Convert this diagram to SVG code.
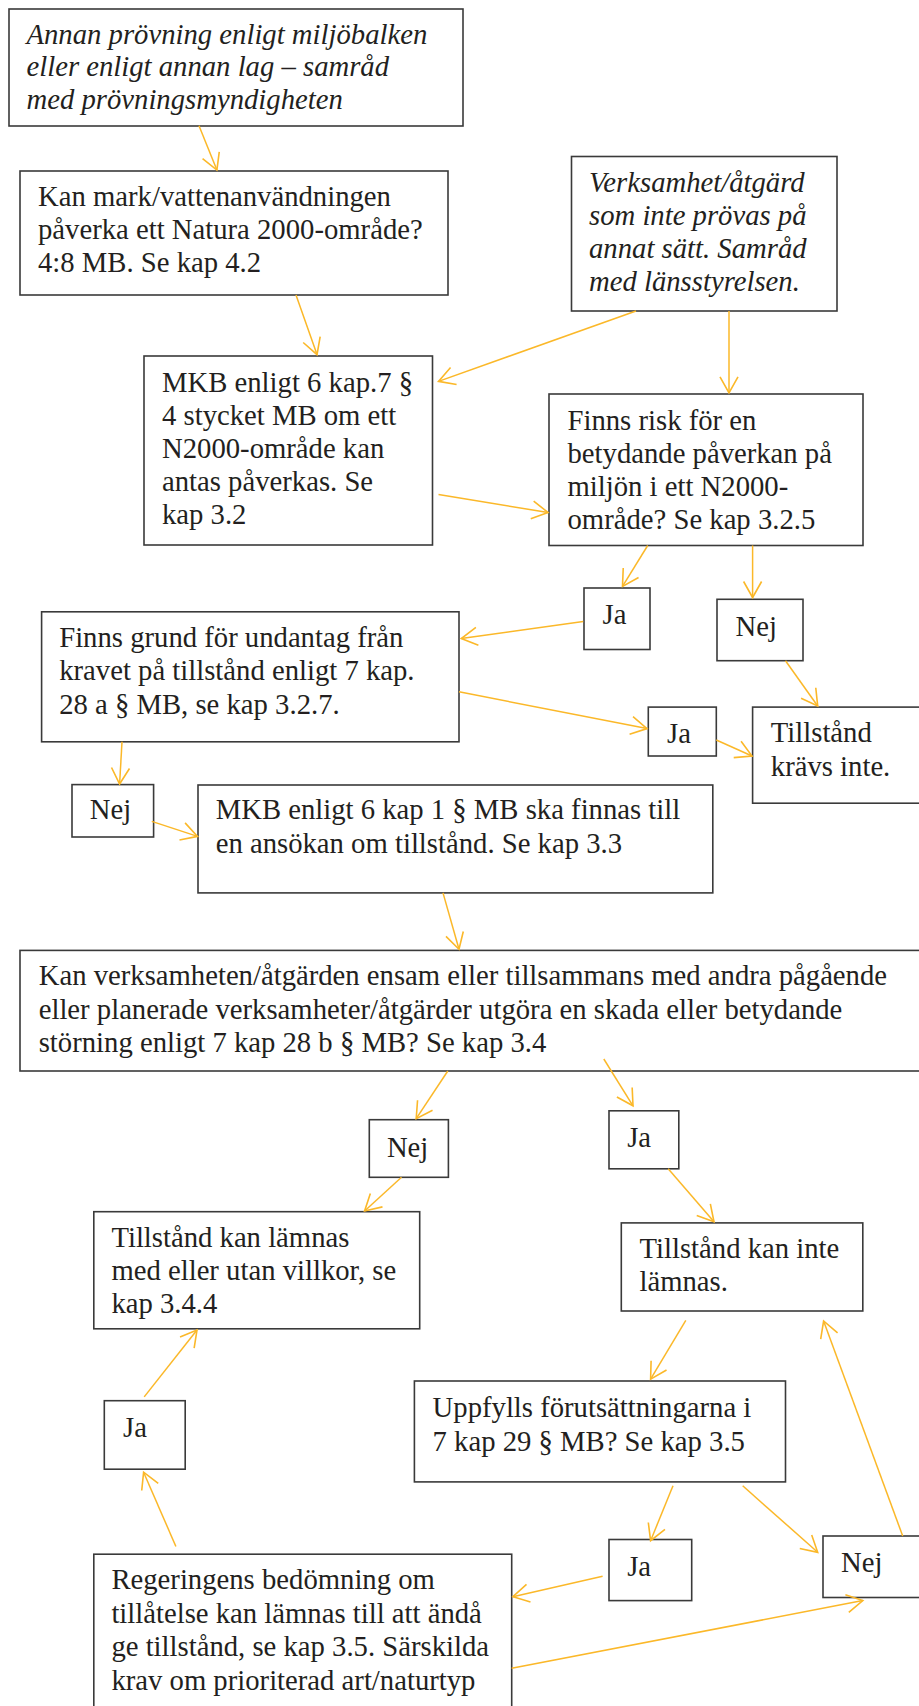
<svg xmlns="http://www.w3.org/2000/svg" width="919" height="1706" viewBox="0 0 919 1706">
<style>
.box{fill:#fff;stroke:#3a3a3a;stroke-width:1.6}
.t{font-family:"Liberation Serif","Times New Roman",serif;font-size:28.7px;fill:#231f20}
.i{font-style:italic}
.c{stroke:#fbb829;stroke-width:1.5;fill:none;marker-end:url(#ah)}
</style>
<defs>
<marker id="ah" markerUnits="userSpaceOnUse" markerWidth="24" markerHeight="24" viewBox="-20 -12 24 24" refX="0" refY="0" orient="auto">
<path d="M-16,-9 L0,0 L-16,9" fill="none" stroke="#fbb829" stroke-width="1.6"/>
</marker>
</defs>
<rect width="919" height="1706" fill="#fff"/>
<g id="n1"><rect class="box" x="9" y="9" width="454" height="117"/>
<text class="t i" x="26.5" y="43.6">Annan prövning enligt miljöbalken</text>
<text class="t i" x="26.5" y="76.3">eller enligt annan lag – samråd</text>
<text class="t i" x="26.5" y="109">med prövningsmyndigheten</text></g>
<g id="n2"><rect class="box" x="20" y="171" width="428" height="124"/>
<text class="t" x="38" y="206">Kan mark/vattenanvändningen</text>
<text class="t" x="38" y="239">påverka ett Natura 2000-område?</text>
<text class="t" x="38" y="272">4:8 MB. Se kap 4.2</text></g>
<g id="n3"><rect class="box" x="571.5" y="156.5" width="265.5" height="154.5"/>
<text class="t i" x="589" y="192">Verksamhet/åtgärd</text>
<text class="t i" x="589" y="225">som inte prövas på</text>
<text class="t i" x="589" y="258">annat sätt. Samråd</text>
<text class="t i" x="589" y="291">med länsstyrelsen.</text></g>
<g id="n4"><rect class="box" x="144" y="356" width="288.5" height="189"/>
<text class="t" x="162" y="391.5">MKB enligt 6 kap.7 §</text>
<text class="t" x="162" y="424.5">4 stycket MB om ett</text>
<text class="t" x="162" y="457.5">N2000-område kan</text>
<text class="t" x="162" y="490.5">antas påverkas. Se</text>
<text class="t" x="162" y="523.5">kap 3.2</text></g>
<g id="n5"><rect class="box" x="549" y="394" width="314" height="151.5"/>
<text class="t" x="567.5" y="429.5">Finns risk för en</text>
<text class="t" x="567.5" y="462.5">betydande påverkan på</text>
<text class="t" x="567.5" y="495.5">miljön i ett N2000-</text>
<text class="t" x="567.5" y="528.5">område? Se kap 3.2.5</text></g>
<g id="n6"><rect class="box" x="584" y="588" width="66" height="61.5"/>
<text class="t" x="602.6" y="624.3">Ja</text></g>
<g id="n7"><rect class="box" x="717" y="599.3" width="86" height="61.4"/>
<text class="t" x="735.6" y="635.7">Nej</text></g>
<g id="n8"><rect class="box" x="41.6" y="611.8" width="417.4" height="130"/>
<text class="t" x="59.2" y="646.5">Finns grund för undantag från</text>
<text class="t" x="59.2" y="680">kravet på tillstånd enligt 7 kap.</text>
<text class="t" x="59.2" y="714">28 a § MB, se kap 3.2.7.</text></g>
<g id="n9"><rect class="box" x="648.3" y="707.1" width="68" height="48.9"/>
<text class="t" x="667" y="742.9">Ja</text></g>
<g id="n10"><rect class="box" x="752.6" y="707.1" width="180" height="96.1"/>
<text class="t" x="770.8" y="741.8">Tillstånd</text>
<text class="t" x="770.8" y="775.7">krävs inte.</text></g>
<g id="n11"><rect class="box" x="72" y="784.6" width="81.6" height="52.4"/>
<text class="t" x="89.7" y="819.3">Nej</text></g>
<g id="n12"><rect class="box" x="198" y="785" width="514.8" height="107.9"/>
<text class="t" x="215.7" y="819.3">MKB enligt 6 kap 1 § MB ska finnas till</text>
<text class="t" x="215.7" y="852.9">en ansökan om tillstånd. Se kap 3.3</text></g>
<g id="n13"><rect class="box" x="20" y="950.4" width="912" height="120.6"/>
<text class="t" x="38.7" y="985.4">Kan verksamheten/åtgärden ensam eller tillsammans med andra pågående</text>
<text class="t" x="38.7" y="1018.6">eller planerade verksamheter/åtgärder utgöra en skada eller betydande</text>
<text class="t" x="38.7" y="1051.8">störning enligt 7 kap 28 b § MB? Se kap 3.4</text></g>
<g id="n14"><rect class="box" x="369.3" y="1119.7" width="79.1" height="57.6"/>
<text class="t" x="386.9" y="1157.2">Nej</text></g>
<g id="n15"><rect class="box" x="609" y="1110.8" width="69.8" height="58"/>
<text class="t" x="627.2" y="1147.2">Ja</text></g>
<g id="n16"><rect class="box" x="93.8" y="1211.7" width="325.9" height="117.1"/>
<text class="t" x="111.4" y="1247">Tillstånd kan lämnas</text>
<text class="t" x="111.4" y="1280">med eller utan villkor, se</text>
<text class="t" x="111.4" y="1313">kap 3.4.4</text></g>
<g id="n17"><rect class="box" x="621.3" y="1222.9" width="241.5" height="88.1"/>
<text class="t" x="639.5" y="1257.7">Tillstånd kan inte</text>
<text class="t" x="639.5" y="1291.3">lämnas.</text></g>
<g id="n18"><rect class="box" x="414.4" y="1381" width="371.1" height="100.9"/>
<text class="t" x="432.6" y="1417">Uppfylls förutsättningarna i</text>
<text class="t" x="432.6" y="1451">7 kap 29 § MB? Se kap 3.5</text></g>
<g id="n19"><rect class="box" x="104.3" y="1400.7" width="80.9" height="68.5"/>
<text class="t" x="123.1" y="1437">Ja</text></g>
<g id="n20"><rect class="box" x="609" y="1539.5" width="82.7" height="61.1"/>
<text class="t" x="627.2" y="1575.5">Ja</text></g>
<g id="n21"><rect class="box" x="823" y="1536" width="120" height="61.5"/>
<text class="t" x="841" y="1572.4">Nej</text></g>
<g id="n22"><rect class="box" x="93.8" y="1554.2" width="417.9" height="170"/>
<text class="t" x="111.4" y="1589">Regeringens bedömning om</text>
<text class="t" x="111.4" y="1622.6">tillåtelse kan lämnas till att ändå</text>
<text class="t" x="111.4" y="1655.5">ge tillstånd, se kap 3.5. Särskilda</text>
<text class="t" x="111.4" y="1689.5">krav om prioriterad art/naturtyp</text></g>
<g id="connectors">
<line class="c" x1="199" y1="125.7" x2="216.9" y2="170"/>
<line class="c" x1="296" y1="295" x2="317" y2="354.6"/>
<line class="c" x1="636" y1="311" x2="438.5" y2="381.4"/>
<line class="c" x1="729" y1="311" x2="729" y2="392.9"/>
<line class="c" x1="438.5" y1="494.6" x2="548" y2="512.5"/>
<line class="c" x1="647.7" y1="545.5" x2="622.5" y2="586.4"/>
<line class="c" x1="752.6" y1="545.5" x2="752.6" y2="597.5"/>
<line class="c" x1="583.2" y1="621.4" x2="461.3" y2="638.6"/>
<line class="c" x1="785.5" y1="660.7" x2="817.7" y2="706"/>
<line class="c" x1="459" y1="691.8" x2="647" y2="728.6"/>
<line class="c" x1="716.3" y1="740" x2="752" y2="756"/>
<line class="c" x1="122" y1="741.8" x2="119.6" y2="784"/>
<line class="c" x1="151.8" y1="821.4" x2="197.5" y2="836.4"/>
<line class="c" x1="443" y1="892.9" x2="459" y2="949.3"/>
<line class="c" x1="447.8" y1="1071" x2="416.2" y2="1118.6"/>
<line class="c" x1="603.8" y1="1059" x2="633" y2="1105.8"/>
<line class="c" x1="401.5" y1="1177.3" x2="364.6" y2="1211"/>
<line class="c" x1="668.2" y1="1168.8" x2="714" y2="1221.8"/>
<line class="c" x1="685.8" y1="1320.3" x2="650.6" y2="1379.1"/>
<line class="c" x1="673" y1="1485.8" x2="650.6" y2="1540.7"/>
<line class="c" x1="742.7" y1="1485.8" x2="817.7" y2="1552.3"/>
<line class="c" x1="902.7" y1="1536" x2="823.6" y2="1321"/>
<line class="c" x1="602.6" y1="1576.2" x2="512.9" y2="1596.7"/>
<line class="c" x1="511.7" y1="1668.2" x2="862.8" y2="1600.6"/>
<line class="c" x1="175.9" y1="1546.5" x2="143.6" y2="1472.2"/>
<line class="c" x1="144.2" y1="1396.9" x2="197" y2="1330"/>
</g>
</svg>
